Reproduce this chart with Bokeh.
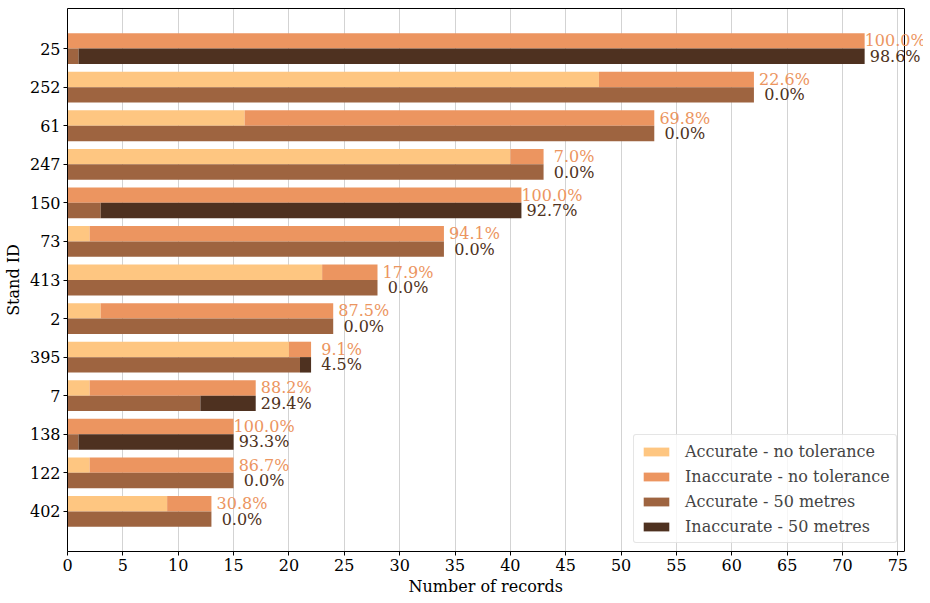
from bokeh.plotting import figure
from bokeh.models import (ColumnDataSource, Range1d, FixedTicker, Legend, LegendItem,
                          Label, LinearAxis, Span, Title)
from bokeh.embed import file_html
from bokeh.resources import INLINE

# ---- data (top to bottom in the chart) ----
stands = ["25", "252", "61", "247", "150", "73", "413", "2", "395", "7", "138", "122", "402"]
total = [72, 62, 53, 43, 41, 34, 28, 24, 22, 17, 15, 15, 13]
acc_no_tol = [0, 48, 16, 40, 0, 2, 23, 3, 20, 2, 0, 2, 9]
acc_50m = [1, 62, 53, 43, 3, 34, 28, 24, 21, 12, 1, 15, 13]
x_ticks = list(range(0, 80, 5))

FONT = "DejaVu Serif"
C_ACC_NT = "#FEC681"
C_INA_NT = "#EC9560"
C_ACC_50 = "#9E6440"
C_INA_50 = "#4E3120"

X_MAX = 75.6          # axis limit (right spine)
AX_W = 837            # px between left and right spine
FRAME_W = 856         # frame extends past right spine so labels are not clipped
X_END = X_MAX * FRAME_W / AX_W

n = len(stands)
idx = [n - 1 - i for i in range(n)]          # 25 at top
up = [i + 0.2 for i in idx]
lo = [i - 0.2 for i in idx]
pct_nt = [100.0 * (t - a) / t for t, a in zip(total, acc_no_tol)]
pct_50 = [100.0 * (t - a) / t for t, a in zip(total, acc_50m)]
lab_nt = [f"{v:.1f}%" for v in pct_nt]
lab_50 = [f"{v:.1f}%" for v in pct_50]
SPACE = 5.1

src = ColumnDataSource(dict(
    up=up, lo=lo, total=total, acc_nt=acc_no_tol, acc_50=acc_50m, zero=[0] * n,
))

p = figure(
    output_backend="svg", toolbar_location=None,
    frame_width=FRAME_W, frame_height=543,
    x_range=Range1d(0, X_END), y_range=Range1d(-1.04, 13.04),
    min_border_left=58, min_border_right=0, min_border_top=8, min_border_bottom=0,
)
p.outline_line_color = None

r1 = p.hbar(y="up", left="zero", right="acc_nt", height=0.4, source=src, color=C_ACC_NT, line_width=0)
r2 = p.hbar(y="up", left="acc_nt", right="total", height=0.4, source=src, color=C_INA_NT, line_width=0)
r3 = p.hbar(y="lo", left="zero", right="acc_50", height=0.4, source=src, color=C_ACC_50, line_width=0)
r4 = p.hbar(y="lo", left="acc_50", right="total", height=0.4, source=src, color=C_INA_50, line_width=0)

# right spine
p.add_layout(Span(location=X_MAX, dimension="height", line_color="black", line_width=1))

for t, yu, yl, s1, s2 in zip(total, up, lo, lab_nt, lab_50):
    p.add_layout(Label(x=t, y=yu, text=s1, x_offset=(6 - len(s1)) * SPACE,
                       text_font=FONT, text_font_size="16px", text_color=C_INA_NT,
                       text_baseline="middle", text_align="left"))
    p.add_layout(Label(x=t, y=yl, text=s2, x_offset=(6 - len(s2)) * SPACE,
                       text_font=FONT, text_font_size="16px", text_color=C_INA_50,
                       text_baseline="middle", text_align="left"))

# top spine as an empty axis
top_axis = LinearAxis(ticker=FixedTicker(ticks=[]), bounds=(0, X_MAX),
                      major_tick_out=0, major_tick_in=0,
                      minor_tick_out=0, minor_tick_in=0, major_label_standoff=0,
                      axis_line_color="black")
p.add_layout(top_axis, "above")

# axes
xa = p.below[0]
xa.ticker = FixedTicker(ticks=x_ticks)
xa.bounds = (0, X_MAX)
p.yaxis.ticker = FixedTicker(ticks=idx)
p.yaxis.major_label_overrides = {i: s for i, s in zip(idx, stands)}
p.yaxis.axis_label = "Stand ID"
for ax in (xa, p.yaxis[0]):
    ax.axis_label_text_font = FONT
    ax.axis_label_text_font_size = "16px"
    ax.axis_label_text_font_style = "normal"
    ax.axis_label_text_color = "black"
    ax.major_label_text_font = FONT
    ax.major_label_text_font_size = "16px"
    ax.major_label_text_color = "black"
    ax.major_tick_out = 4
    ax.major_tick_in = 0
    ax.minor_tick_out = 0
    ax.minor_tick_in = 0
    ax.axis_line_color = "black"
    ax.major_tick_line_color = "black"
    ax.major_label_standoff = 3
    ax.axis_label_standoff = 4

# x-axis title, centred under the axis span (not the wider frame)
p.add_layout(Title(text="Number of records", align="left", offset=341,
                   text_font=FONT, text_font_size="16px", text_font_style="normal",
                   text_color="black", standoff=2), "below")

p.ygrid.grid_line_color = None
p.xgrid.grid_line_color = "#d3d3d3"
p.xgrid.grid_line_width = 1

legend = Legend(items=[
    LegendItem(label="Accurate - no tolerance", renderers=[r1]),
    LegendItem(label="Inaccurate - no tolerance", renderers=[r2]),
    LegendItem(label="Accurate - 50 metres", renderers=[r3]),
    LegendItem(label="Inaccurate - 50 metres", renderers=[r4]),
], location=(566, 8))
legend.label_text_font = FONT
legend.label_text_font_size = "16px"
legend.glyph_width = 32
legend.glyph_height = 11
legend.label_height = 20
legend.spacing = 5
legend.padding = 6
legend.margin = 0
legend.label_standoff = 13
legend.border_line_color = "#cccccc"
legend.border_line_width = 1
legend.border_radius = 3
legend.background_fill_alpha = 0.8
p.add_layout(legend)

open("out.html", "w").write(file_html(p, INLINE))
